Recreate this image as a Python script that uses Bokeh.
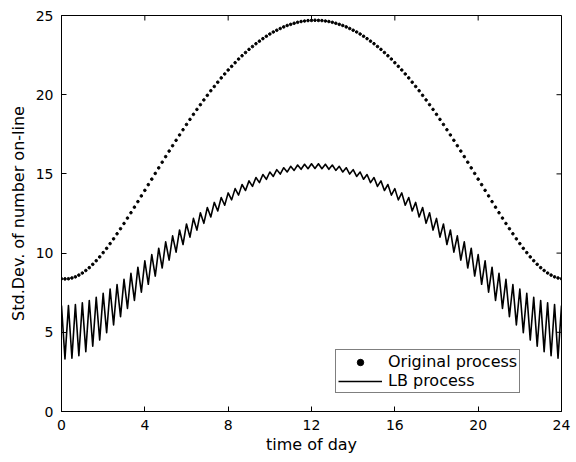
import math

from bokeh.plotting import figure
from bokeh.models import Range1d, FixedTicker, Legend, LegendItem
from bokeh.embed import file_html
from bokeh.resources import INLINE

# time of day, sampled every 10 minutes (0 .. 24 h)
hours = [i / 6 for i in range(145)]

# Std.Dev. of number on-line, original process (dotted curve)
original = [
    8.38,
    8.37, 8.38, 8.43, 8.50, 8.61, 8.74, 8.90, 9.08, 9.29, 9.52,
    9.76, 10.03, 10.30, 10.60, 10.90, 11.22, 11.54, 11.87, 12.21, 12.55,
    12.90, 13.25, 13.61, 13.96, 14.32, 14.67, 15.03, 15.38, 15.74, 16.09,
    16.44, 16.78, 17.12, 17.46, 17.79, 18.12, 18.44, 18.76, 19.07, 19.37,
    19.67, 19.96, 20.25, 20.52, 20.79, 21.06, 21.31, 21.56, 21.79, 22.02,
    22.25, 22.46, 22.66, 22.86, 23.04, 23.22, 23.38, 23.54, 23.69, 23.83,
    23.96, 24.07, 24.18, 24.28, 24.37, 24.44, 24.51, 24.57, 24.62, 24.65,
    24.68, 24.69, 24.70,
    24.69, 24.68, 24.65, 24.62, 24.57, 24.51, 24.44, 24.37, 24.28, 24.18,
    24.07, 23.96, 23.83, 23.69, 23.54, 23.38, 23.22, 23.04, 22.86, 22.66,
    22.46, 22.25, 22.02, 21.79, 21.56, 21.31, 21.06, 20.79, 20.52, 20.25,
    19.96, 19.67, 19.37, 19.07, 18.76, 18.44, 18.12, 17.79, 17.46, 17.12,
    16.78, 16.44, 16.09, 15.74, 15.38, 15.03, 14.67, 14.32, 13.96, 13.61,
    13.25, 12.90, 12.55, 12.21, 11.87, 11.54, 11.22, 10.90, 10.60, 10.30,
    10.03, 9.76, 9.52, 9.29, 9.08, 8.90, 8.74, 8.61, 8.50, 8.43,
    8.38,
]

# Std.Dev. of number on-line, LB process (oscillating line)
lb_process = [
    6.69, 3.32, 6.69, 3.36, 6.75, 3.52, 6.86, 3.78, 7.01, 4.12,
    7.21, 4.51, 7.46, 4.97, 7.73, 5.47, 8.02, 5.99, 8.34, 6.51,
    8.72, 7.01, 9.11, 7.53, 9.51, 8.03, 9.91, 8.55, 10.31, 9.06,
    10.71, 9.56, 11.09, 10.06, 11.46, 10.54, 11.84, 11.01, 12.19, 11.45,
    12.55, 11.88, 12.88, 12.28, 13.20, 12.66, 13.51, 13.02, 13.80, 13.36,
    14.07, 13.66, 14.33, 13.95, 14.56, 14.21, 14.77, 14.45, 14.96, 14.66,
    15.12, 14.84, 15.27, 14.99, 15.39, 15.12, 15.48, 15.22, 15.56, 15.29,
    15.61, 15.33, 15.64, 15.34,
    15.64, 15.33, 15.61, 15.29, 15.56, 15.22,
    15.48, 15.12, 15.39, 14.99, 15.27, 14.84, 15.12, 14.66, 14.96, 14.45,
    14.77, 14.21, 14.56, 13.95, 14.33, 13.66, 14.07, 13.36, 13.80, 13.02,
    13.51, 12.66, 13.20, 12.28, 12.88, 11.88, 12.55, 11.45, 12.19, 11.01,
    11.84, 10.54, 11.46, 10.06, 11.09, 9.56, 10.71, 9.06, 10.31, 8.55,
    9.91, 8.03, 9.51, 7.53, 9.11, 7.01, 8.72, 6.51, 8.34, 5.99,
    8.02, 5.47, 7.73, 4.97, 7.46, 4.51, 7.21, 4.12, 7.01, 3.78,
    6.86, 3.52, 6.75, 3.36, 6.69,
]

x_ticks = [0, 4, 8, 12, 16, 20, 24]
y_ticks = [0, 5, 10, 15, 20, 25]
series_labels = ["Original process", "LB process"]

FONT = "DejaVu Sans"
X_MIN, X_MAX = x_ticks[0], x_ticks[-1]
Y_MIN, Y_MAX = y_ticks[0], y_ticks[-1]

p = figure(
    frame_width=500, frame_height=396,
    output_backend="svg", toolbar_location=None,
    x_range=Range1d(X_MIN, X_MAX), y_range=Range1d(Y_MIN, Y_MAX),
    min_border_left=61, min_border_right=15,
    min_border_top=15, min_border_bottom=51,
    background_fill_color="white", border_fill_color="white",
)
p.grid.visible = False
p.outline_line_color = "black"
p.outline_line_width = 1

r1 = p.scatter(hours, original, size=2.6, color="black", marker="circle")
r2 = p.line(hours, lb_process, line_width=1.6, color="black", line_join="round")

# mirrored (inward) tick marks on the top and right edges of the box
p.ray(x=x_ticks, y=[Y_MAX] * len(x_ticks), length=5, length_units="screen",
      angle=-math.pi / 2, line_color="black", line_width=1)
p.ray(x=[X_MAX] * len(y_ticks), y=y_ticks, length=5, length_units="screen",
      angle=math.pi, line_color="black", line_width=1)

xa = p.xaxis[0]
ya = p.yaxis[0]
xa.ticker = FixedTicker(ticks=x_ticks)
ya.ticker = FixedTicker(ticks=y_ticks)
for ax in (xa, ya):
    ax.axis_line_color = "black"
    ax.major_tick_line_color = "black"
    ax.major_tick_in = 5
    ax.major_tick_out = 0
    ax.minor_tick_line_color = None
    ax.major_label_text_font = FONT
    ax.major_label_text_font_size = "14px"
    ax.major_label_text_color = "black"
    ax.major_label_standoff = 8
    ax.axis_label_text_font = FONT
    ax.axis_label_text_font_size = "16px"
    ax.axis_label_text_font_style = "normal"
    ax.axis_label_text_color = "black"
xa.axis_label = "time of day"
ya.axis_label = "Std.Dev. of number on-line"
xa.axis_label_standoff = 2
ya.axis_label_standoff = 5

legend = Legend(
    items=[
        LegendItem(label=series_labels[0], renderers=[r1]),
        LegendItem(label=series_labels[1], renderers=[r2]),
    ],
    location=(274, 18),
    orientation="vertical",
    border_line_color="black",
    border_line_width=1,
    background_fill_color="white",
    background_fill_alpha=1,
    label_text_font=FONT,
    label_text_font_size="16px",
    label_text_color="black",
    glyph_width=44,
    glyph_height=16,
    label_height=16,
    label_standoff=6,
    spacing=0,
    padding=2,
    margin=0,
)
p.add_layout(legend)

open("out.html", "w").write(file_html(p, INLINE))
